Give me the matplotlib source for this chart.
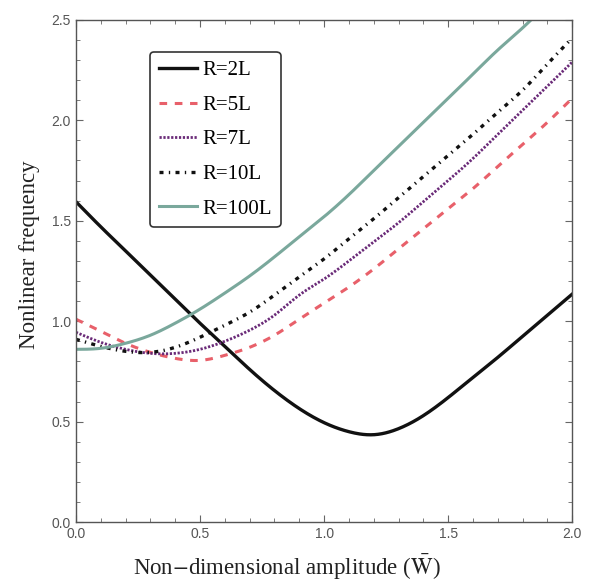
import numpy as np
import matplotlib
matplotlib.use("Agg")
import matplotlib.pyplot as plt
from matplotlib.ticker import MultipleLocator

# Data
w = [0.0, 0.1, 0.2, 0.3, 0.4, 0.5, 0.6, 0.7, 0.8, 0.9, 1.0,
     1.1, 1.2, 1.3, 1.4, 1.5, 1.6, 1.7, 1.8, 1.9, 2.0]
r2L = [1.595, 1.47, 1.35, 1.23, 1.11, 0.99, 0.875, 0.76, 0.655, 0.565, 0.495,
       0.45, 0.435, 0.465, 0.53, 0.62, 0.72, 0.82, 0.925, 1.03, 1.135]
r5L = [1.01, 0.95, 0.89, 0.845, 0.815, 0.805, 0.83, 0.87, 0.93, 1.01, 1.09,
       1.17, 1.26, 1.36, 1.46, 1.56, 1.66, 1.77, 1.88, 1.99, 2.11]
r7L = [0.945, 0.895, 0.86, 0.84, 0.84, 0.86, 0.90, 0.955, 1.03, 1.13, 1.21,
       1.30, 1.395, 1.49, 1.595, 1.70, 1.81, 1.93, 2.05, 2.17, 2.29]
r10L = [0.91, 0.875, 0.85, 0.845, 0.87, 0.92, 0.98, 1.045, 1.13, 1.22, 1.31,
        1.41, 1.51, 1.615, 1.72, 1.825, 1.93, 2.04, 2.15, 2.28, 2.41]
r100L = [0.86, 0.865, 0.89, 0.93, 0.99, 1.06, 1.14, 1.225, 1.32, 1.42, 1.52,
         1.63, 1.75, 1.87, 1.99, 2.11, 2.23, 2.35, 2.46, 2.58, 2.70]
labels = ["R=2L", "R=5L", "R=7L", "R=10L", "R=100L"]

plt.rcParams['mathtext.fontset'] = 'stix'

fig = plt.figure(figsize=(5.93, 5.84), dpi=100)
ax = fig.add_axes([0.128, 0.106, 0.837, 0.860])


def smooth(x, y):
    """Natural cubic spline through the read points."""
    xa, ya = np.asarray(x, float), np.asarray(y, float)
    xs = np.linspace(xa.min(), xa.max(), 400)
    n = len(xa) - 1
    h = np.diff(xa)
    A = np.zeros((n + 1, n + 1)); b = np.zeros(n + 1)
    A[0, 0] = 1; A[n, n] = 1
    for i in range(1, n):
        A[i, i - 1] = h[i - 1]; A[i, i] = 2 * (h[i - 1] + h[i]); A[i, i + 1] = h[i]
        b[i] = 3 * ((ya[i + 1] - ya[i]) / h[i] - (ya[i] - ya[i - 1]) / h[i - 1])
    c = np.linalg.solve(A, b)
    ys = np.empty_like(xs)
    for k, xv in enumerate(xs):
        i = min(np.searchsorted(xa, xv, side='right') - 1, n - 1)
        dx = xv - xa[i]
        bb = (ya[i + 1] - ya[i]) / h[i] - h[i] * (2 * c[i] + c[i + 1]) / 3
        d = (c[i + 1] - c[i]) / (3 * h[i])
        ys[k] = ya[i] + bb * dx + c[i] * dx ** 2 + d * dx ** 3
    return xs, ys


styles = [
    dict(color='#111111', lw=2.4, ls='-'),
    dict(color='#e8606a', lw=2.2, dashes=(2.5, 2.5)),
    dict(color='#6a2a78', lw=2.0, dashes=(0.8, 0.6)),
    dict(color='#111111', lw=2.4, dashes=(1.2, 1.6, 0.4, 1.6)),
    dict(color='#7aa89c', lw=2.2, ls='-'),
]
for ys, lab, st in zip([r2L, r5L, r7L, r10L, r100L], labels, styles):
    xs, yy = smooth(w, ys)
    ax.plot(xs, yy, label=lab, **st)

ax.set_xlim(0, 2.0)
ax.set_ylim(0, 2.5)
ax.xaxis.set_major_locator(MultipleLocator(0.5))
ax.xaxis.set_minor_locator(MultipleLocator(0.1))
ax.yaxis.set_major_locator(MultipleLocator(0.5))
ax.yaxis.set_minor_locator(MultipleLocator(0.1))
ax.tick_params(which='both', direction='in', top=True, right=True,
               colors='#666666', labelcolor='#555555', labelsize=10)
ax.tick_params(which='major', length=5, width=0.8)
ax.tick_params(which='minor', length=3, width=0.6)
for lbl in ax.get_xticklabels() + ax.get_yticklabels():
    lbl.set_fontfamily('Liberation Sans')
for s in ax.spines.values():
    s.set_color('#555555')
    s.set_linewidth(1.0)

ax.set_xlabel(r'Non$-$dimensional amplitude ($\bar{\mathrm{W}}$)',
              fontfamily='Liberation Serif', fontsize=16.5, color='#222222')
ax.set_ylabel('Nonlinear frequency', fontfamily='Liberation Serif',
              fontsize=16.5, color='#222222')
ax.xaxis.label.set_va('center')
ax.xaxis.set_label_coords(0.425, -0.090)
ax.yaxis.set_label_coords(-0.073, 0.532)

leg = ax.legend(loc='upper left', bbox_to_anchor=(0.149, 0.936),
                borderaxespad=0.0,
                prop={'family': 'Liberation Serif', 'size': 15},
                frameon=True, fancybox=True, edgecolor='#333333',
                handlelength=1.85, labelspacing=0.72, borderpad=0.42,
                handletextpad=0.25)
leg.get_frame().set_linewidth(1.2)
leg.get_frame().set_alpha(1)

fig.savefig('out.png', dpi=100)
